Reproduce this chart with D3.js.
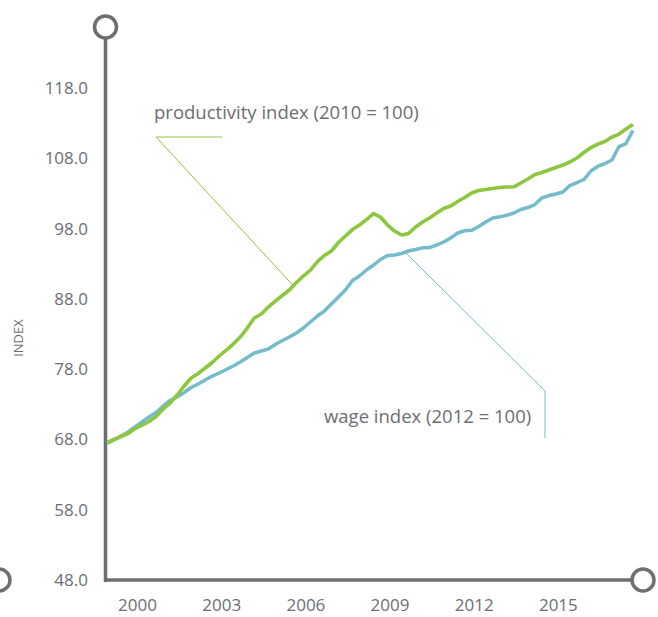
<!DOCTYPE html>
<html>
<head>
<meta charset="utf-8">
<script src="https://cdn.jsdelivr.net/npm/d3@7"></script>
<style>
  html, body { margin: 0; padding: 0; background: #fff; }
  svg { display: block; }
  text { font-family: "Open Sans", "Noto Sans", sans-serif; fill: #6d6e71; }
</style>
</head>
<body>
<svg id="chart" width="658" height="617"></svg>
<script>
// ---- data (quarterly, 1999 Q1 – 2017 Q4) ----
const startYear = 1999;
const productivity = [
  67.56, 67.99, 68.42, 68.84, 69.55, 70.05, 70.55, 71.26, 72.33, 73.18,
  74.32, 75.60, 76.74, 77.38, 78.16, 78.94, 79.87, 80.72, 81.57, 82.57,
  83.85, 85.27, 85.84, 86.84, 87.69, 88.48, 89.26, 90.32, 91.25, 92.10,
  93.31, 94.17, 94.81, 96.02, 96.94, 97.86, 98.50, 99.29, 100.14, 99.64,
  98.50, 97.65, 97.08, 97.30, 98.22, 98.93, 99.50, 100.21, 100.85, 101.21,
  101.85, 102.42, 103.06, 103.41, 103.56, 103.70, 103.84, 103.91, 103.94, 104.48,
  105.05, 105.69, 105.97, 106.33, 106.69, 107.04, 107.47, 108.04, 108.82, 109.53,
  110.03, 110.38, 111.02, 111.45, 112.16, 112.80
];
const wage = [
  67.45, 67.92, 68.49, 69.06, 69.77, 70.48, 71.19, 71.83, 72.75, 73.54,
  74.03, 74.68, 75.39, 75.88, 76.45, 77.02, 77.45, 77.95, 78.45, 79.01,
  79.65, 80.29, 80.58, 80.86, 81.50, 82.07, 82.57, 83.14, 83.85, 84.71,
  85.56, 86.27, 87.27, 88.26, 89.26, 90.61, 91.25, 92.10, 92.81, 93.60,
  94.17, 94.24, 94.45, 94.81, 95.02, 95.26, 95.30, 95.66, 96.09, 96.66,
  97.37, 97.69, 97.75, 98.29, 98.93, 99.50, 99.67, 99.90, 100.21, 100.71,
  100.99, 101.42, 102.35, 102.70, 102.92, 103.20, 104.12, 104.55, 104.98, 106.19,
  106.87, 107.25, 107.75, 109.67, 110.10, 111.95
];
const yTicks = [48, 58, 68, 78, 88, 98, 108, 118];
const xTickYears = [2000, 2003, 2006, 2009, 2012, 2015];
const productivityLabel = "productivity index (2010 = 100)";
const wageLabel = "wage index (2012 = 100)";
const yAxisTitle = "INDEX";

// ---- layout ----
const axisColor = "#6d6e71";
const green = "#8dc63f";
const blue = "#72bccb";
const svg = d3.select("#chart");

const toYear = i => startYear + i / 4;
const x = d3.scaleLinear().domain([startYear, startYear + 18.75]).range([107, 633]);
const y = d3.scaleLinear().domain([48, 118]).range([580, 88]);

// axes lines
svg.append("line").attr("x1", 105.5).attr("x2", 105.5).attr("y1", 38).attr("y2", 582)
  .attr("stroke", axisColor).attr("stroke-width", 3.5);
svg.append("line").attr("x1", 104).attr("x2", 633).attr("y1", 580).attr("y2", 580)
  .attr("stroke", axisColor).attr("stroke-width", 3.5);

// end circles
[[105.5, 27], [643, 580], [-1, 580]].forEach(([cx, cy]) => {
  svg.append("circle").attr("cx", cx).attr("cy", cy).attr("r", 11)
    .attr("fill", "#fff").attr("stroke", axisColor).attr("stroke-width", 3.5);
});

// y tick labels
const yAxis = d3.axisLeft(y).tickValues(yTicks).tickFormat(d3.format(".1f")).tickSize(0).tickPadding(0);
const gy = svg.append("g").attr("transform", "translate(88,0)").call(yAxis);
gy.select(".domain").remove();
gy.selectAll("text").attr("font-size", 17).attr("fill", axisColor)
  .style("font-family", "'Open Sans', sans-serif");

// x tick labels
const xAxis = d3.axisBottom(x).tickValues(xTickYears).tickFormat(d3.format("d")).tickSize(0).tickPadding(0);
const gx = svg.append("g").attr("transform", "translate(2,599)").call(xAxis);
gx.select(".domain").remove();
gx.selectAll("text").attr("font-size", 17).attr("fill", axisColor)
  .style("font-family", "'Open Sans', sans-serif");

// y title
svg.append("text").attr("transform", "translate(23,338) rotate(-90)")
  .attr("text-anchor", "middle").attr("font-size", 13).attr("fill", "#8a8b8d")
  .text(yAxisTitle);

// lines
const line = d3.line().x((d, i) => x(toYear(i))).y(d => y(d)).curve(d3.curveLinear);
svg.append("path").datum(wage).attr("d", line).attr("fill", "none")
  .attr("stroke", blue).attr("stroke-width", 3.5).attr("stroke-linejoin", "round");
svg.append("path").datum(productivity).attr("d", line).attr("fill", "none")
  .attr("stroke", green).attr("stroke-width", 3.6).attr("stroke-linejoin", "round");

// annotation: productivity
const pIdx = 26.5; // point on line the leader touches
const pA = [x(toYear(pIdx)) + 1, y(d3.interpolateNumber(productivity[26], productivity[27])(0.5))];
svg.append("polyline")
  .attr("points", `222,137 156,137 ${pA[0]},${pA[1]}`)
  .attr("fill", "none").attr("stroke", green).attr("stroke-width", 1);
svg.append("text").attr("x", 154).attr("y", 119).attr("font-size", 18.5)
  .attr("fill", "#58595b").text(productivityLabel);

// annotation: wage
const wIdx = 42.5;
const wA = [x(toYear(wIdx)), y(d3.interpolateNumber(wage[42], wage[43])(0.5))];
svg.append("polyline")
  .attr("points", `${wA[0]},${wA[1]} 545,391 545,438`)
  .attr("fill", "none").attr("stroke", blue).attr("stroke-width", 1);
svg.append("text").attr("x", 324).attr("y", 423).attr("font-size", 18.5)
  .attr("fill", "#58595b").text(wageLabel);
</script>
</body>
</html>
